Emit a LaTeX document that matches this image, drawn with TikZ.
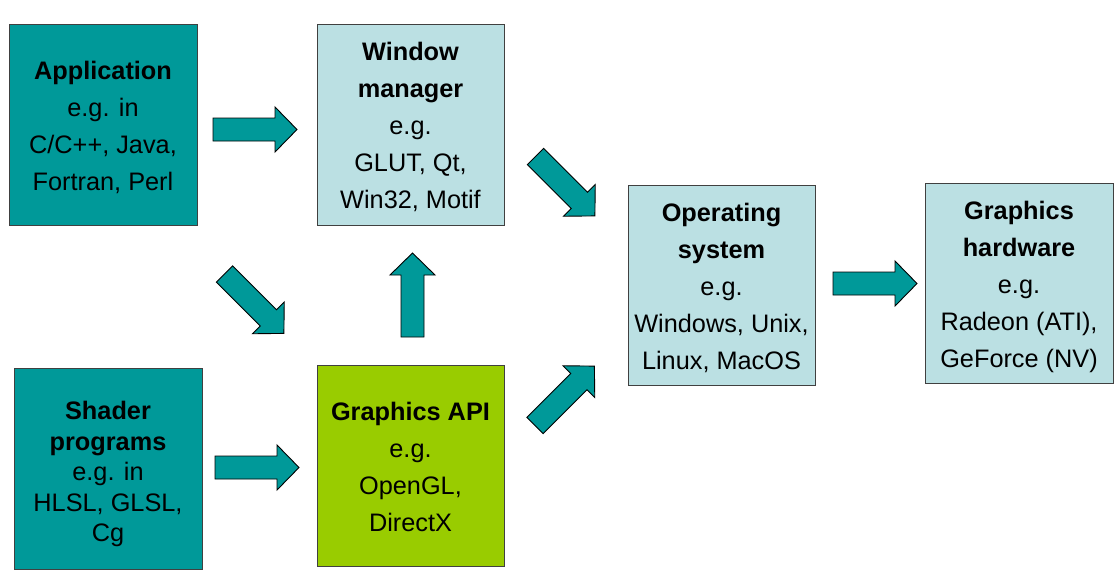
\documentclass[tikz,border=0pt]{standalone}
\usepackage{fontspec}
\setmainfont{Liberation Sans}
\definecolor{tealbox}{HTML}{009999}
\definecolor{lightbox}{HTML}{BBE0E3}
\definecolor{greenbox}{HTML}{99CC00}
\newcommand{\boxlines}[2][-3pt]{\raisebox{#1}[\height][\depth]{\begin{tabular}{@{}c@{}}#2\end{tabular}}}
\begin{document}
\begin{tikzpicture}[x=1pt,y=-1pt,
  box/.style={draw=black!75, line width=1pt, minimum width=188pt, minimum height=201pt,
    inner sep=0pt, text=black, font=\fontsize{25.3}{37}\selectfont},
  tealstyle/.style={box, fill=tealbox},
  lightstyle/.style={box, fill=lightbox},
  greenstyle/.style={box, fill=greenbox},
  arrowstyle/.style={fill=tealbox, draw=black, line width=0.9pt, line join=miter},
  blockarrow/.pic={\draw[arrowstyle] (0,-11.5) -- (62,-11.5) -- (62,-22.5) -- (84,0) -- (62,22.5) -- (62,11.5) -- (0,11.5) -- cycle;}
]
\useasboundingbox (0,0) rectangle (1118,582);

\node[tealstyle] (app) at (103,124.5) {\boxlines{\textbf{Application}\\e.g. in\\C/C++, Java,\\Fortran, Perl}};
\node[lightstyle, minimum width=187pt] (wm) at (410.5,124.5) {\boxlines{\textbf{Window}\\\textbf{manager}\\e.g.\\GLUT, Qt,\\Win32, Motif}};
\node[tealstyle, font=\fontsize{25.3}{30.5}\selectfont] (shader) at (108,468.5) {\boxlines[-6pt]{\textbf{Shader}\\\textbf{programs}\\e.g. in\\HLSL, GLSL,\\Cg}};
\node[greenstyle, minimum width=187pt] (api) at (410.5,465.5) {\boxlines{\textbf{Graphics API}\\e.g.\\OpenGL,\\DirectX}};
\node[lightstyle, minimum width=187pt, minimum height=200pt] (os) at (721.5,285) {\boxlines{\textbf{Operating}\\\textbf{system}\\e.g.\\Windows, Unix,\\Linux, MacOS}};
\node[lightstyle, minimum height=200pt] (gh) at (1019,283) {\boxlines{\textbf{Graphics}\\\textbf{hardware}\\e.g.\\Radeon (ATI),\\GeForce (NV)}};

\pic at (213,129.5) {blockarrow};
\pic at (215,467.5) {blockarrow};
\pic at (833,283.5) {blockarrow};
\pic[rotate=-45] at (224.5,274) {blockarrow};
\pic[rotate=-45] at (535.5,156.5) {blockarrow};
\pic[rotate=45] at (535,425.5) {blockarrow};
\pic[rotate=90] at (412.5,337) {blockarrow};
\end{tikzpicture}
\end{document}
